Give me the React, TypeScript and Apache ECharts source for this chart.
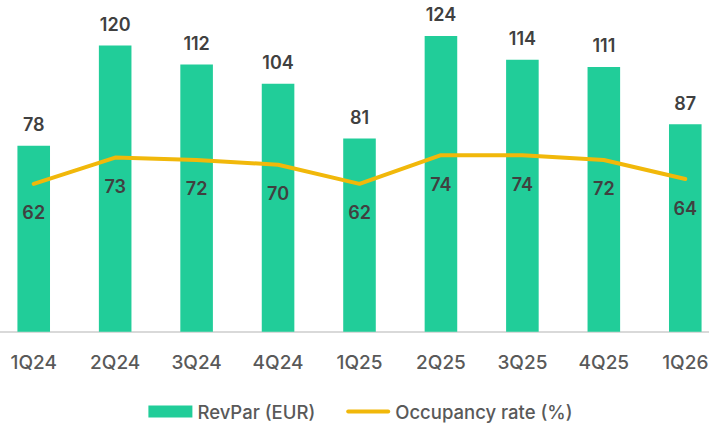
import React, { useEffect, useRef } from "react";
import * as echarts from "echarts";

const categories = ["1Q24", "2Q24", "3Q24", "4Q24", "1Q25", "2Q25", "3Q25", "4Q25", "1Q26"];
const revPar = [78, 120, 112, 104, 81, 124, 114, 111, 87];
const occupancy = [62, 73, 72, 70, 62, 74, 74, 72, 64];

const FONT = "Inter, 'Noto Sans', sans-serif";

export default function App() {
  const ref = useRef<HTMLDivElement>(null);
  useEffect(() => {
    if (!ref.current) return;
    const chart = echarts.init(ref.current, undefined, { renderer: "svg" });
    chart.setOption({
      animation: false,
      backgroundColor: "#ffffff",
      grid: { left: 0, right: 0, top: 21.65, bottom: 92.3, containLabel: false },
      legend: {
        left: 150.4,
        top: 397,
        itemWidth: 44,
        itemHeight: 12,
        itemGap: 31,
        textStyle: { fontFamily: FONT, fontSize: 18.5, color: "#595959", fontWeight: 500 },
        data: [
          { name: "RevPar (EUR)", icon: "rect" },
          {
            name: "Occupancy rate (%)",
            icon: "path://M2,0 L42,0 A2,2 0 0 1 42,4 L2,4 A2,2 0 0 1 2,0 Z",
          },
        ],
      },
      xAxis: {
        type: "category",
        data: categories,
        boundaryGap: true,
        axisLine: { show: true, lineStyle: { color: "#d9d9d9", width: 2 } },
        axisTick: { show: false },
        axisLabel: {
          margin: 21,
          fontFamily: FONT,
          fontSize: 19,
          fontWeight: 500,
          color: "#595959",
        },
      },
      yAxis: {
        type: "value",
        min: 0,
        max: 130,
        show: false,
        splitLine: { show: false },
      },
      series: [
        {
          name: "RevPar (EUR)",
          type: "bar",
          data: revPar,
          barWidth: "40%",
          itemStyle: { color: "#21CD99" },
          label: {
            show: true,
            position: "top",
            distance: 12,
            fontFamily: FONT,
            fontSize: 18,
            fontWeight: 600,
            color: "#404040",
          },
        },
        {
          name: "Occupancy rate (%)",
          type: "line",
          data: occupancy,
          symbol: "circle",
          symbolSize: 0.01,
          showSymbol: true,
          z: 3,
          lineStyle: { color: "#F1B80A", width: 4, cap: "round", join: "round" },
          itemStyle: { color: "#F1B80A" },
          label: {
            show: true,
            position: "bottom",
            distance: 20,
            fontFamily: FONT,
            fontSize: 18,
            fontWeight: 600,
            color: "#404040",
          },
          labelLayout: { hideOverlap: false },
        },
      ],
    });
    return () => chart.dispose();
  }, []);
  return (
    <div style={{ position: "absolute", left: 0, top: 0, width: 709, height: 424, overflow: "hidden", background: "#fff" }}>
      <div ref={ref} style={{ width: 733, height: 424, position: "absolute", left: -7.4, top: 0 }} />
    </div>
  );
}
